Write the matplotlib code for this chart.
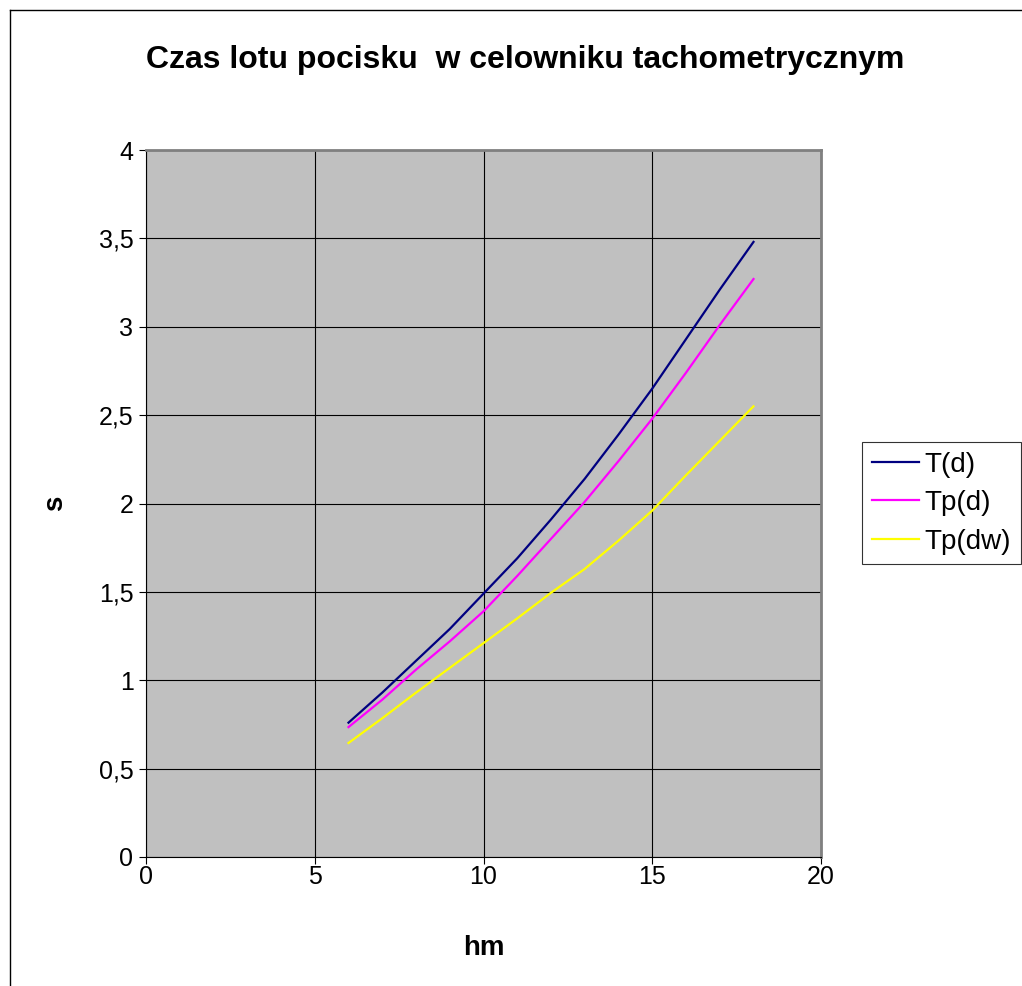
import matplotlib.pyplot as plt
from matplotlib.lines import Line2D
from matplotlib.ticker import FuncFormatter, MultipleLocator

plt.rcParams["font.family"] = ["Liberation Sans", "DejaVu Sans"]

# values
hm = [6, 7, 8, 9, 10, 11, 12, 13, 14, 15, 16, 17, 18]
t_d = [0.76, 0.93, 1.11, 1.29, 1.49, 1.69, 1.91, 2.14, 2.39, 2.65, 2.93, 3.21, 3.48]
tp_d = [0.735, 0.89, 1.06, 1.22, 1.39, 1.59, 1.80, 2.01, 2.24, 2.48, 2.74, 3.01, 3.27]
tp_dw = [0.645, 0.785, 0.93, 1.07, 1.21, 1.35, 1.495, 1.63, 1.79, 1.96, 2.16, 2.355, 2.55]
series_names = ["T(d)", "Tp(d)", "Tp(dw)"]
series_colors = ["#000080", "#FF00FF", "#FFFF00"]

W, H = 1022, 986
fig = plt.figure(figsize=(W / 100, H / 100), dpi=100)
ax = fig.add_axes([146 / W, 1 - 857 / H, (821 - 146) / W, (857 - 150) / H])
ax.set_facecolor("#C0C0C0")

for y, name, color in zip([t_d, tp_d, tp_dw], series_names, series_colors):
    ax.plot(hm, y, color=color, lw=1.6, label=name)

ax.set_xlim(0, 20)
ax.set_ylim(0, 4)
ax.xaxis.set_major_locator(MultipleLocator(5))
ax.yaxis.set_major_locator(MultipleLocator(0.5))
ax.yaxis.set_major_formatter(FuncFormatter(lambda v, p: f"{v:g}".replace(".", ",")))
ax.grid(True, color="#000000", lw=0.8)
ax.set_axisbelow(True)
ax.tick_params(direction="out", length=5, width=0.8, labelsize=18, color="black")
ax.tick_params(axis="x", pad=1)
ax.tick_params(axis="y", pad=4)

for side in ("top", "right"):
    ax.spines[side].set_color("#808080")
    ax.spines[side].set_linewidth(2)
for side in ("left", "bottom"):
    ax.spines[side].set_color("black")
    ax.spines[side].set_linewidth(0.8)

ax.set_xlabel("hm", fontsize=20, fontweight="bold", labelpad=33)
ax.set_ylabel("s", fontsize=20, fontweight="bold", labelpad=22)

fig.text(525 / W, 1 - 60 / H, "Czas lotu pocisku  w celowniku tachometrycznym",
         ha="center", va="center", fontsize=23, fontweight="bold")

leg = fig.legend(loc="upper left", bbox_to_anchor=(862 / W, 1 - 442 / H),
                 fontsize=20, frameon=True, fancybox=False, handlelength=1.7,
                 handletextpad=0.2, borderpad=0.35, labelspacing=0.45,
                 borderaxespad=0)
leg.get_frame().set_edgecolor("black")
leg.get_frame().set_linewidth(0.8)

# outer chart area border
fig.add_artist(Line2D([10 / W, 10 / W], [0, 1 - 10 / H], color="black", lw=1))
fig.add_artist(Line2D([10 / W, 1], [1 - 10 / H, 1 - 10 / H], color="black", lw=1))

fig.savefig("out.png", dpi=100)
